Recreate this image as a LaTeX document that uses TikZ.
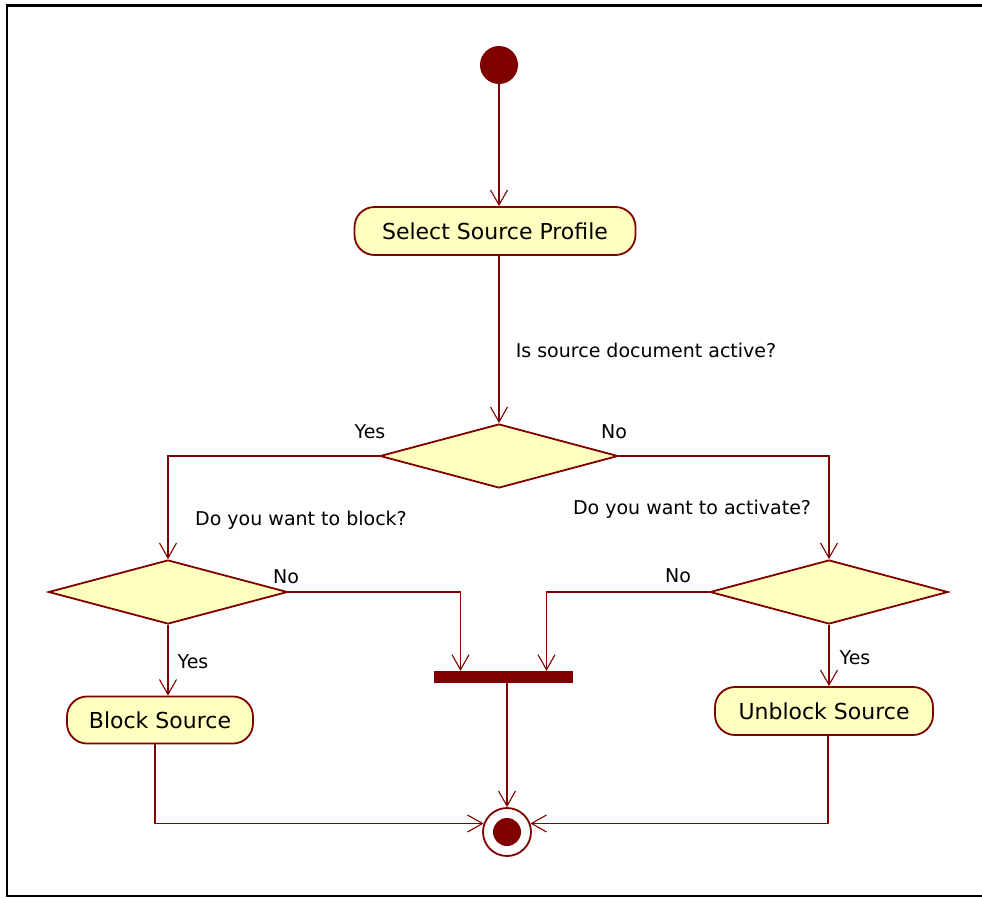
\documentclass[tikz,border=0pt]{standalone}
\usepackage{fontspec}
\setmainfont{DejaVu Sans}
\usetikzlibrary{shapes.geometric,arrows.meta,calc}
\definecolor{umlred}{HTML}{800000}
\definecolor{umlfill}{HTML}{FFFFC0}
\tikzset{
  flow/.style={draw=umlred, line width=1.8pt,
    -{Straight Barb[length=15pt,width=17pt,line width=1.1pt]}},
  action/.style={draw=umlred, fill=umlfill, line width=1.8pt,
    rounded corners=20pt, inner sep=0pt,
    font=\fontsize{22}{26}\selectfont},
  choice/.style={diamond, draw=umlred, fill=umlfill, line width=1.8pt,
    inner sep=0pt, minimum width=238pt, minimum height=64pt},
  lbl/.style={font=\fontsize{19}{23}\selectfont, inner sep=0pt},
  startdot/.style={circle, fill=umlred, inner sep=0pt, minimum size=38pt},
  joinbar/.style={rectangle, fill=umlred, inner sep=0pt,
    minimum width=139pt, minimum height=12pt},
  enddot/.style={circle, draw=umlred, line width=1.8pt, fill=white,
    inner sep=0pt, minimum size=48pt},
}
\begin{document}
\begin{tikzpicture}[x=1pt, y=-1pt]
  \useasboundingbox (0,0) rectangle (982,899);
  % frame around the sheet
  \draw[line width=2.2pt] (982,5.5) -- (7,5.5) -- (7,896) -- (982,896);

  % nodes
  \node[startdot] (start) at (499,65) {};
  \node[action, minimum width=281pt, minimum height=48pt] (select) at (495,231) {Select Source Profile};
  \node[choice] (dec1) at (499,456) {};
  \node[choice, minimum width=239pt] (dec2) at (168,592) {};
  \node[choice] (dec3) at (829,592) {};
  \node[joinbar] (bar) at (503.5,677) {};
  \node[action, minimum width=186pt, minimum height=47pt] (block) at (160,720) {Block Source};
  \node[action, minimum width=218pt, minimum height=48pt] (unblock) at (824,711) {Unblock Source};
  \node[enddot] (end) at (507,832) {};
  \node[circle, fill=umlred, inner sep=0pt, minimum size=28pt] (enddisc) at (end) {};

  % labels
  \node[lbl] (qactive) at (646,350) {Is source document active?};
  \node[lbl] (yes1) at (370,432) {Yes};
  \node[lbl] (no1) at (614,432) {No};
  \node[lbl] (qblock) at (301,520) {Do you want to block?};
  \node[lbl] (qactivate) at (692,509) {Do you want to activate?};
  \node[lbl] (no2) at (286,577) {No};
  \node[lbl] (no3) at (678,576) {No};
  \node[lbl] (yes2) at (193,662) {Yes};
  \node[lbl] (yes3) at (855,658) {Yes};

  % connectors
  \coordinate (barL) at ([xshift=-43pt]bar.north);
  \coordinate (barR) at ([xshift=43pt]bar.north);
  \draw[flow] (start) -- (start |- select.north);
  \draw[flow] (select.south -| dec1.north) -- (dec1.north);
  \draw[flow] (dec1.west) -| (dec2.north);
  \draw[flow] (dec1.east) -| (dec3.north);
  \draw[flow] (dec2.east) -| (barL);
  \draw[flow] (dec3.west) -| (barR);
  \draw[flow] (dec2.south) -- (dec2.south |- block.north);
  \draw[flow] (dec3.south) -- (dec3.south |- unblock.north);
  \draw[flow] (bar.south -| end.north) -- (end.north);
  \draw[flow] ([xshift=-5pt]block.south) |- (end.160);
  \draw[flow] ([xshift=4pt]unblock.south) |- (end.20);
\end{tikzpicture}
\end{document}
